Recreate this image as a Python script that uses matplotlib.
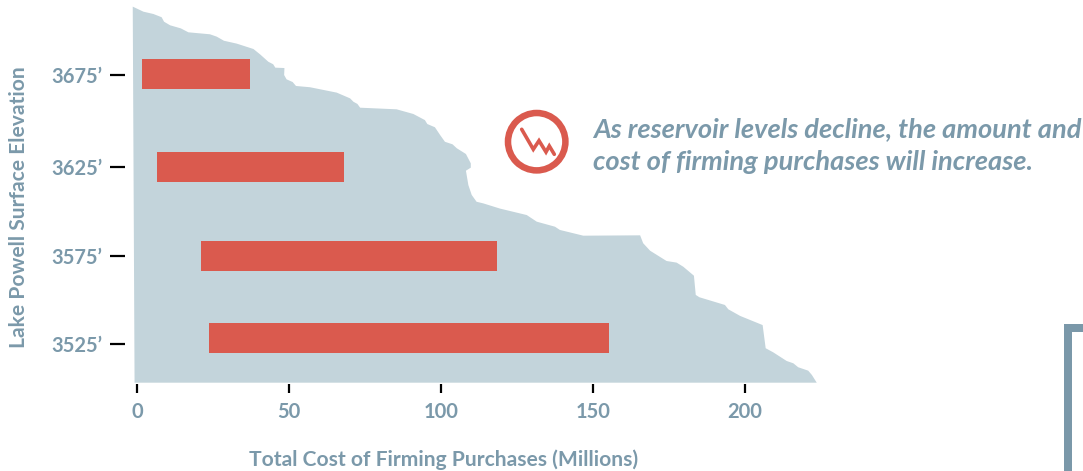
import matplotlib
matplotlib.use("Agg")
import matplotlib.pyplot as plt
from matplotlib.patches import Circle, Polygon

# Outline of the shaded region: cost (millions) against elevation (feet)
outline_cost = [-1.4, 2.1, 5.4, 8.1, 8.9, 10.9, 14.4, 16.9, 24.0, 26.2, 28.6, 32.8, 38.3, 40.5, 43.2, 44.8,
                45.5, 48.5, 48.4, 49.2, 51.2, 52.3, 56.9, 65.7, 70.1, 71.2, 72.5, 73.4, 85.4, 90.9, 94.7,
                95.5, 98.0, 99.7, 101.3, 103.8, 105.2, 108.2, 109.8, 109.8, 108.2, 109.0, 110.1, 111.7,
                113.9, 119.4, 128.2, 131.5, 137.5, 139.1, 146.8, 165.5, 166.5, 168.8, 174.2, 177.5, 179.7,
                183.2, 183.8, 185.0, 193.4, 194.5, 198.4, 205.8, 206.8, 209.3, 213.7, 215.9, 217.5, 220.8,
                222.0, 223.6, -0.8]
outline_elev = [3712.8, 3710.0, 3708.7, 3706.9, 3704.4, 3702.4, 3700.7, 3698.5, 3697.4, 3696.1, 3693.8, 3692.2,
                3689.2, 3686.2, 3682.1, 3680.7, 3678.8, 3678.6, 3674.7, 3672.3, 3670.8, 3668.6, 3667.9, 3664.9,
                3661.7, 3659.8, 3658.6, 3656.5, 3655.6, 3653.0, 3649.6, 3647.4, 3645.6, 3641.3, 3637.5, 3636.1,
                3633.9, 3630.7, 3625.5, 3623.1, 3621.4, 3613.4, 3607.9, 3604.1, 3603.2, 3600.3, 3596.7, 3593.0,
                3590.2, 3588.4, 3585.2, 3585.4, 3581.0, 3576.8, 3571.1, 3570.2, 3567.9, 3562.9, 3552.2, 3550.9,
                3546.6, 3544.2, 3540.5, 3535.4, 3522.5, 3520.2, 3515.4, 3514.1, 3511.9, 3510.0, 3507.6, 3503.3,
                3503.3]

# Firming purchase ranges
bar_elev = [3675.3, 3623.5, 3573.9, 3528.2]
bar_low = [1.6, 6.6, 21.1, 23.7]
bar_high = [37.2, 68.1, 118.4, 155.3]

y_ticks = [3674.7, 3623.5, 3573.9, 3524.9]
y_labels = ["3675\u2019", "3625\u2019", "3575\u2019", "3525\u2019"]
x_ticks = [0, 50, 100, 150, 200]
x_labels = ["0", "50", "100", "150", "200"]

W, H = 1083, 471
BLUE = "#7b99aa"
AREA = "#c3d4db"
RED = "#da5a4e"
FONT = "Lato"

fig = plt.figure(figsize=(W / 100, H / 100), dpi=100, facecolor="white")
L, R, T, B = 125, 1083, 0, 383.5
ax = fig.add_axes([L / W, 1 - B / H, (R - L) / W, (B - T) / H])
ax.set_xlim((L - 137) / 3.04, (R - 137) / 3.04)
ax.set_ylim(3716.5 - B * 0.5571, 3716.5 - T * 0.5571)
ax.patch.set_alpha(0)
for s in ax.spines.values():
    s.set_visible(False)

ax.fill(outline_cost, outline_elev, color=AREA, lw=0, zorder=1)
ax.barh(bar_elev, [h - l for h, l in zip(bar_high, bar_low)], left=bar_low, height=16.7, color=RED, lw=0, zorder=2)

ax.set_xticks(x_ticks, x_labels)
ax.set_yticks(y_ticks, y_labels)
ax.tick_params(axis="x", length=6.5, width=1.6, color="black", pad=7, labelcolor=BLUE, labelsize=14.5)
ax.tick_params(axis="y", length=10.8, width=1.6, color="black", pad=5.5, labelcolor=BLUE, labelsize=14.5)
for t in ax.get_xticklabels() + ax.get_yticklabels():
    t.set_fontfamily(FONT)
    t.set_fontweight("bold")

# Overlay in pixel coordinates for the icon, bracket and text placement
ov = fig.add_axes([0, 0, 1, 1], zorder=5)
ov.set_xlim(0, W)
ov.set_ylim(H, 0)
ov.axis("off")

ax.set_xlabel("Total Cost of Firming Purchases (Millions)", fontfamily=FONT, fontweight="bold", fontsize=15.1, color=BLUE)
ax.xaxis.set_label_coords(444, 460, transform=ov.transData)
ax.xaxis.label.set_verticalalignment("center")
ax.set_ylabel("Lake Powell Surface Elevation", fontfamily=FONT, fontweight="bold", fontsize=15.1, color=BLUE)
ax.yaxis.set_label_coords(19, 207, transform=ov.transData)
ax.yaxis.label.set_verticalalignment("center")

ov.add_patch(Circle((536.7, 141.7), 28.7, fill=False, ec=RED, lw=4.7))
ov.plot([521.7, 533.3, 539, 546, 549.3, 554.3], [129.3, 149.3, 140.7, 152, 146, 154.3],
        color=RED, lw=2.6, solid_capstyle="round", solid_joinstyle="miter")
ov.add_patch(Polygon([(1064, 471), (1064, 324), (1083, 324), (1083, 332), (1072, 332), (1072, 471)],
                     closed=True, fc="#7a98a9", ec="none"))

for y, s in [(129, "As reservoir levels decline, the amount and"),
             (162, "cost of firming purchases will increase.")]:
    ov.text(593, y, s, fontfamily=FONT, fontweight="bold", style="italic", fontsize=19.6,
            color=BLUE, ha="left", va="center")

fig.savefig("out.png", dpi=100)
